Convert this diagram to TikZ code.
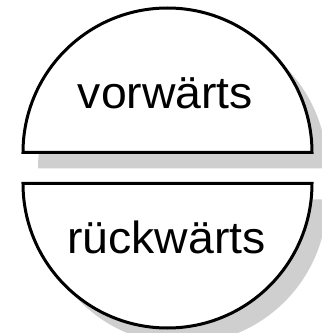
\documentclass[tikz,border=0pt]{standalone}
\usepackage{fontspec}
\setmainfont{Liberation Sans}
\begin{document}
\begin{tikzpicture}[x=1pt,y=1pt,
  outline/.style={draw=black,line width=3pt,fill=white,line join=miter},
  shade/.style={fill=black!19,draw=none},
  label/.style={font=\fontsize{45}{50}\selectfont,anchor=base,inner sep=0pt,xscale=1.03}]
  \useasboundingbox (0,0) rectangle (322,333);
  % drop shadows
  \fill[shade] (38,164.5) -- (327,164.5) arc[start angle=0,end angle=180,radius=144.5] -- cycle;
  \fill[shade] (38,133.5) -- (327,133.5) arc[start angle=0,end angle=-180,radius=144.5] -- cycle;
  % upper half: forwards
  \draw[outline] (23,180.5) -- (312,180.5) arc[start angle=0,end angle=180,radius=144.5] -- cycle;
  % lower half: backwards
  \draw[outline] (23,149.5) -- (312,149.5) arc[start angle=0,end angle=-180,radius=144.5] -- cycle;
  \node[label] (fwd) at (165.5,224) {vorwärts};
  \node[label] (bwd) at (166.5,79) {rückwärts};
\end{tikzpicture}
\end{document}
